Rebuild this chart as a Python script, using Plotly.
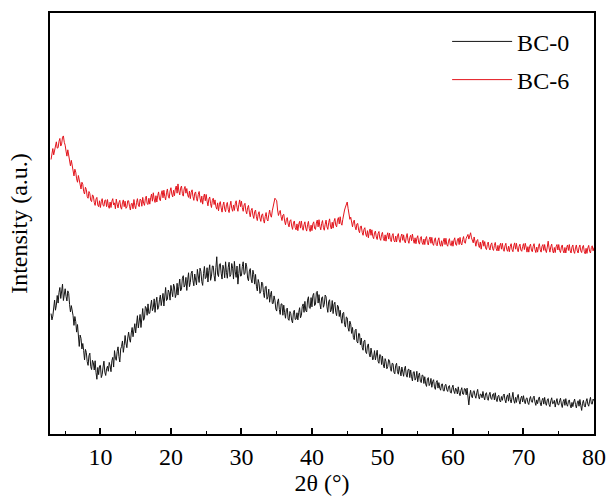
import plotly.graph_objects as go

# 2-theta sampling grid (degrees), 0.125 deg step from 3 to 80
two_theta = [3 + 0.125 * i for i in range(617)]

# BC-0 diffraction intensity (a.u.), eight readings per degree
bc0 = [
    28.6, 27.1, 28.0, 30.9, 31.8, 29.4, 30.6, 32.9,
    31.1, 33.6, 34.8, 32.2, 34.4, 35.6, 31.7, 33.8,
    34.5, 32.7, 31.6, 34.0, 33.4, 30.8, 29.0, 30.5,
    29.4, 28.1, 25.8, 27.9, 26.7, 24.2, 26.0, 23.1,
    20.8, 23.5, 22.7, 20.2, 21.5, 19.8, 17.6, 20.1,
    19.4, 17.2, 16.3, 18.6, 19.2, 16.0, 15.3, 17.5,
    16.9, 15.2, 17.4, 14.6, 13.0, 15.8, 14.1, 16.2,
    16.3, 13.4, 14.1, 15.9, 17.3, 14.7, 13.9, 15.5,
    16.1, 14.9, 17.0, 16.2, 14.8, 17.4, 18.2, 15.9,
    19.8, 18.0, 17.5, 19.6, 20.7, 18.4, 17.1, 20.2,
    20.8, 22.1, 19.4, 21.0, 23.4, 21.6, 20.5, 22.8,
    24.2, 22.6, 21.8, 24.0, 25.3, 23.1, 24.5, 26.2,
    24.0, 26.6, 28.1, 25.2, 26.4, 28.4, 25.3, 27.5,
    29.8, 27.0, 27.6, 30.3, 29.9, 28.2, 30.9, 28.6,
    28.7, 30.4, 31.8, 29.3, 30.0, 32.1, 28.9, 31.2,
    32.5, 29.6, 30.1, 31.9, 33.0, 30.5, 31.6, 33.4,
    30.4, 32.6, 34.8, 31.7, 32.0, 34.2, 33.6, 31.8,
    35.3, 33.9, 32.6, 35.6, 34.9, 32.4, 33.2, 35.8,
    33.0, 35.1, 36.8, 34.0, 34.4, 37.0, 37.6, 34.9,
    35.4, 37.2, 34.1, 36.6, 38.3, 35.0, 36.0, 38.2,
    38.7, 36.4, 35.2, 38.0, 37.0, 35.4, 39.1, 36.7,
    36.0, 39.4, 38.6, 36.2, 35.3, 38.1, 39.8, 36.9,
    37.2, 39.5, 36.1, 38.8, 40.2, 36.5, 37.5, 39.9,
    39.9, 37.6, 36.3, 39.5, 42.1, 38.0, 37.4, 40.3,
    40.5, 38.2, 36.8, 40.1, 39.2, 37.1, 40.9, 38.4,
    37.0, 39.6, 40.8, 37.4, 37.9, 40.5, 39.4, 36.8,
    41.0, 38.5, 37.2, 39.9, 35.6, 38.1, 40.4, 37.5,
    37.6, 39.8, 40.9, 37.9, 38.1, 40.6, 39.7, 37.0,
    36.4, 38.7, 39.3, 36.8, 35.9, 38.9, 37.9, 35.6,
    37.9, 35.1, 34.0, 36.7, 35.8, 33.4, 33.9, 36.1,
    35.8, 33.6, 32.4, 34.9, 35.1, 32.0, 32.6, 34.4,
    31.3, 33.1, 33.9, 31.0, 31.0, 32.8, 31.8, 29.7,
    29.2, 31.4, 32.1, 29.6, 28.4, 30.9, 30.9, 28.2,
    30.6, 28.8, 27.5, 29.6, 29.9, 27.3, 27.0, 29.1,
    28.6, 27.0, 26.4, 28.9, 29.4, 27.2, 27.3, 28.8,
    27.1, 28.9, 30.0, 27.6, 28.2, 30.3, 30.9, 28.9,
    31.5, 29.3, 29.0, 31.8, 32.6, 30.0, 29.8, 32.4,
    30.2, 32.9, 33.4, 30.5, 30.8, 33.6, 33.9, 31.1,
    33.1, 31.0, 29.7, 32.3, 32.6, 30.1, 30.8, 33.0,
    32.6, 30.2, 28.9, 31.5, 31.9, 29.0, 29.5, 31.7,
    28.6, 30.8, 31.3, 28.9, 28.1, 30.6, 30.2, 27.9,
    29.4, 27.5, 26.3, 28.7, 28.9, 26.0, 25.4, 27.8,
    27.6, 25.2, 24.4, 26.8, 26.1, 23.9, 25.3, 22.9,
    22.4, 24.6, 24.9, 22.0, 21.6, 23.9, 23.8, 21.2,
    22.8, 20.6, 19.9, 22.1, 22.3, 19.5, 19.1, 21.0,
    21.4, 19.0, 18.3, 20.4, 19.4, 17.6, 18.2, 19.8,
    17.6, 19.3, 19.9, 17.3, 16.8, 18.9, 18.7, 16.5,
    18.5, 16.4, 15.7, 17.9, 17.2, 15.5, 16.0, 17.7,
    17.4, 15.6, 14.9, 16.8, 16.7, 14.7, 14.3, 16.3,
    16.8, 14.8, 14.2, 16.1, 15.3, 13.8, 15.9, 14.4,
    13.7, 15.5, 16.1, 14.0, 13.5, 15.3, 15.4, 13.4,
    15.2, 13.6, 12.6, 14.7, 14.8, 12.8, 13.3, 14.9,
    12.4, 13.9, 14.5, 12.5, 12.2, 14.0, 13.9, 12.0,
    13.6, 11.9, 11.3, 13.1, 13.4, 11.5, 11.9, 13.2,
    11.1, 12.5, 12.9, 11.2, 10.6, 12.3, 12.7, 10.9,
    12.2, 10.9, 10.4, 11.8, 11.9, 10.3, 10.2, 11.6,
    11.8, 10.5, 10.1, 11.3, 11.5, 9.9, 9.7, 11.0,
    11.6, 10.2, 9.6, 10.9, 10.5, 9.5, 11.2, 9.8,
    9.1, 10.4, 11.0, 9.5, 9.4, 10.8, 10.7, 9.3,
    10.9, 8.8, 6.9, 9.2, 10.4, 9.0, 8.6, 10.1,
    10.3, 9.1, 8.5, 9.8, 10.6, 8.9, 8.3, 9.5,
    9.4, 8.6, 10.1, 8.8, 8.1, 9.6, 9.8, 8.4,
    8.0, 9.3, 9.9, 8.5, 8.2, 9.4, 9.6, 8.1,
    9.8, 8.3, 7.7, 9.0, 9.2, 7.9, 7.6, 8.9,
    8.0, 9.1, 9.5, 8.1, 7.4, 8.8, 9.3, 7.8,
    9.7, 8.2, 7.4, 8.6, 9.9, 8.0, 7.3, 8.7,
    7.5, 8.8, 9.4, 7.9, 7.1, 8.5, 9.0, 7.6,
    9.1, 7.8, 7.2, 8.4, 8.6, 7.4, 7.0, 8.3,
    8.9, 7.7, 7.5, 8.6, 9.0, 7.6, 6.8, 8.1,
    7.2, 8.3, 8.8, 7.4, 6.7, 8.0, 8.5, 7.1,
    8.7, 7.3, 6.8, 8.1, 8.4, 7.0, 6.5, 7.9,
    8.6, 7.2, 7.3, 8.0, 6.4, 7.6, 8.4, 7.0,
    6.9, 7.9, 8.5, 7.1, 6.3, 7.7, 8.2, 6.8,
    8.4, 7.0, 6.6, 7.8, 8.1, 6.9, 6.2, 7.5,
    6.5, 7.6, 8.3, 7.0, 6.2, 7.4, 7.9, 6.6,
    8.2, 6.8, 5.6, 7.3, 8.0, 6.7, 6.4, 7.7,
    8.4, 7.1, 6.6, 7.8, 8.7, 7.2, 7.1, 8.3,
    7.9,
]

# BC-6 diffraction intensity (a.u.), offset above BC-0
bc6 = [
    65.2, 66.4, 67.8, 66.3, 67.1, 68.6, 69.4, 67.9,
    68.0, 69.5, 70.2, 68.4, 68.9, 70.5, 70.8, 69.3,
    68.6, 67.2, 66.0, 67.5, 66.4, 64.8, 63.7, 65.0,
    64.0, 62.5, 61.3, 62.9, 62.2, 60.6, 59.8, 61.4,
    60.5, 58.9, 58.2, 59.8, 59.3, 57.6, 57.0, 58.6,
    58.1, 56.4, 56.0, 57.6, 57.1, 55.5, 55.2, 56.8,
    56.5, 55.0, 54.3, 55.8, 56.2, 54.4, 54.0, 55.4,
    53.8, 55.2, 55.9, 54.3, 54.1, 55.5, 55.6, 54.0,
    55.7, 54.2, 53.6, 55.1, 53.8, 55.3, 55.9, 54.4,
    54.9, 53.5, 55.8, 54.6, 53.7, 55.0, 55.5, 53.9,
    53.4, 54.9, 55.6, 54.0, 55.3, 53.6, 53.9, 55.4,
    55.4, 54.1, 53.2, 54.7, 54.8, 53.5, 55.7, 54.2,
    53.5, 55.0, 55.9, 54.4, 54.0, 55.8, 55.6, 54.1,
    56.2, 54.8, 54.3, 55.9, 56.5, 54.7, 54.5, 56.0,
    54.6, 56.1, 57.0, 55.3, 57.3, 55.8, 55.0, 56.6,
    55.1, 56.6, 57.5, 55.8, 55.4, 57.0, 57.8, 56.1,
    57.9, 56.4, 55.6, 57.3, 58.2, 56.5, 56.0, 57.7,
    58.5, 57.0, 56.3, 57.9, 56.6, 58.2, 58.9, 57.2,
    59.4, 57.7, 56.8, 58.4, 58.9, 57.1, 56.5, 58.2,
    58.8, 57.2, 58.3, 56.8, 56.2, 57.7, 55.9, 57.4,
    58.0, 56.4, 55.5, 57.2, 57.5, 55.9, 55.3, 56.9,
    57.6, 56.0, 55.0, 56.5, 54.6, 56.2, 57.0, 55.4,
    56.9, 55.3, 54.2, 55.8, 56.3, 54.7, 53.8, 55.5,
    56.0, 54.5, 55.6, 54.0, 53.4, 54.9, 53.0, 54.6,
    55.2, 53.7, 52.7, 54.3, 55.1, 53.4, 52.8, 54.5,
    55.0, 53.3, 52.6, 54.2, 55.3, 53.6, 52.9, 54.4,
    53.1, 54.7, 55.4, 53.8, 52.9, 54.5, 55.6, 54.0,
    55.3, 53.8, 52.9, 54.4, 54.8, 53.0, 52.3, 53.8,
    54.3, 52.7, 51.6, 53.1, 53.6, 52.0, 51.2, 52.8,
    53.2, 51.6, 50.7, 52.2, 52.8, 51.3, 50.5, 52.0,
    52.3, 50.9, 50.1, 51.7, 52.6, 51.0, 50.6, 52.1,
    53.2, 51.9, 51.5, 53.0, 54.4, 55.1, 56.0, 55.7,
    55.4, 53.2, 51.9, 52.6, 53.1, 51.6, 50.7, 52.0,
    52.2, 50.6, 49.7, 51.0, 51.4, 49.9, 49.2, 50.6,
    50.9, 49.4, 48.6, 50.1, 50.6, 49.0, 48.5, 49.9,
    48.3, 49.8, 50.5, 48.9, 50.6, 49.1, 48.4, 49.7,
    50.4, 48.9, 48.2, 49.7, 50.5, 48.8, 48.1, 49.6,
    48.3, 49.9, 50.4, 48.8, 48.6, 50.1, 50.8, 49.2,
    50.9, 49.3, 48.5, 50.0, 50.7, 49.0, 48.4, 49.8,
    50.8, 49.2, 48.6, 50.2, 51.1, 49.4, 48.7, 50.3,
    48.9, 50.5, 51.2, 49.6, 49.2, 50.8, 51.4, 49.9,
    51.6, 50.1, 49.6, 51.0, 52.6, 53.2, 53.9, 54.6,
    55.1, 53.6, 52.0, 51.0, 51.5, 50.0, 49.2, 50.4,
    50.8, 49.2, 48.5, 49.9, 50.0, 48.4, 47.8, 49.3,
    49.4, 47.9, 47.2, 48.6, 49.0, 47.5, 46.9, 48.3,
    46.6, 48.0, 48.7, 47.2, 48.5, 46.9, 46.4, 47.8,
    48.2, 46.8, 46.2, 47.6, 48.1, 46.5, 46.0, 47.4,
    47.9, 46.4, 45.9, 47.3, 45.8, 47.1, 47.8, 46.3,
    47.7, 46.2, 45.7, 47.1, 47.6, 46.0, 45.6, 47.0,
    45.6, 47.0, 47.6, 46.1, 45.5, 46.9, 47.5, 46.0,
    47.3, 45.8, 45.4, 46.8, 47.6, 46.0, 45.3, 46.7,
    47.2, 45.9, 47.5, 46.2, 45.3, 46.6, 45.2, 46.5,
    47.1, 45.6, 45.1, 46.5, 46.9, 45.4, 45.0, 46.3,
    45.0, 46.4, 46.9, 45.5, 44.9, 46.2, 46.8, 45.3,
    46.7, 45.2, 44.8, 46.1, 46.6, 45.0, 44.7, 46.0,
    46.6, 45.1, 44.6, 45.9, 44.6, 45.8, 46.5, 45.0,
    46.5, 45.0, 44.6, 45.8, 46.4, 44.9, 44.7, 45.9,
    44.6, 46.0, 46.6, 45.1, 44.8, 46.1, 46.5, 45.0,
    46.7, 45.3, 44.9, 46.2, 46.9, 45.5, 45.3, 46.5,
    46.8, 47.4, 46.3, 47.2, 47.8, 46.6, 46.0, 45.4,
    46.8, 45.3, 44.6, 45.9, 46.2, 44.8, 44.3, 45.6,
    43.9, 45.2, 46.0, 44.6, 45.7, 44.2, 43.8, 45.0,
    45.6, 44.2, 43.7, 45.0, 45.4, 44.0, 43.6, 44.8,
    45.5, 44.0, 43.5, 44.8, 43.5, 44.7, 45.3, 43.9,
    45.3, 43.9, 43.4, 44.7, 45.3, 43.8, 43.4, 44.6,
    43.3, 44.6, 45.2, 43.8, 43.3, 44.7, 45.4, 43.9,
    45.3, 43.9, 43.3, 44.6, 45.1, 43.7, 43.4, 44.5,
    45.2, 43.8, 45.3, 44.4, 43.2, 44.5, 43.2, 44.6,
    45.1, 43.7, 43.3, 44.6, 45.2, 43.8, 43.1, 44.4,
    43.2, 44.5, 45.2, 43.8, 43.2, 44.6, 45.0, 43.6,
    45.0, 43.7, 43.1, 44.4, 45.8, 44.2, 43.2, 44.5,
    45.1, 43.6, 43.0, 44.3, 43.1, 44.5, 45.0, 43.7,
    45.0, 43.6, 43.1, 44.4, 44.9, 43.5, 43.0, 44.3,
    43.0, 44.3, 44.9, 43.6, 45.0, 43.5, 43.0, 44.4,
    44.9, 43.4, 42.9, 44.2, 44.9, 43.5, 43.0, 44.3,
    44.9, 43.5, 43.1, 44.4, 44.8, 43.3, 42.8, 44.1,
    42.9, 44.2, 44.8, 43.4, 43.0, 44.3, 44.7, 43.5,
    44.3,
]

x_ticks = [10, 20, 30, 40, 50, 60, 70, 80]

FONT = "Liberation Serif, Times New Roman, serif"

fig = go.Figure()
fig.add_trace(go.Scatter(x=two_theta, y=bc0, mode="lines", name="BC-0",
                         legendgroup="a",
                         line=dict(color="#141414", width=1)))
fig.add_trace(go.Scatter(x=two_theta, y=bc6, mode="lines", name="BC-6",
                         legendgroup="b",
                         line=dict(color="#e3141c", width=1)))

fig.update_layout(
    width=606, height=496,
    margin=dict(l=50, r=12, t=13, b=62),
    paper_bgcolor="white", plot_bgcolor="white",
    font=dict(family=FONT, color="black", size=24),
    showlegend=True,
    legend=dict(x=0.73, y=0.985, xanchor="left", yanchor="top",
                bgcolor="rgba(0,0,0,0)", font=dict(family=FONT, size=24),
                itemwidth=60, tracegroupgap=4, traceorder="grouped"),
    xaxis=dict(
        range=[2.85, 80], tickvals=x_ticks, ticks="inside", ticklen=6,
        tickwidth=1.5, tickcolor="black", automargin=False,
        minor=dict(dtick=5, tick0=5, ticks="inside", ticklen=3,
                   tickwidth=1.2, tickcolor="black"),
        showline=True, linecolor="black", linewidth=2, mirror=True,
        showgrid=False, zeroline=False,
        tickfont=dict(family=FONT, size=24),
        title=dict(text="2θ (°)", font=dict(family=FONT, size=24), standoff=6),
    ),
    yaxis=dict(
        range=[0, 100], showticklabels=False, ticks="", automargin=False,
        showline=True, linecolor="black", linewidth=2, mirror=True,
        showgrid=False, zeroline=False,
        title=dict(text="Intensity (a.u.)", font=dict(family=FONT, size=24),
                   standoff=14),
    ),
)

fig.write_html("out.html")
